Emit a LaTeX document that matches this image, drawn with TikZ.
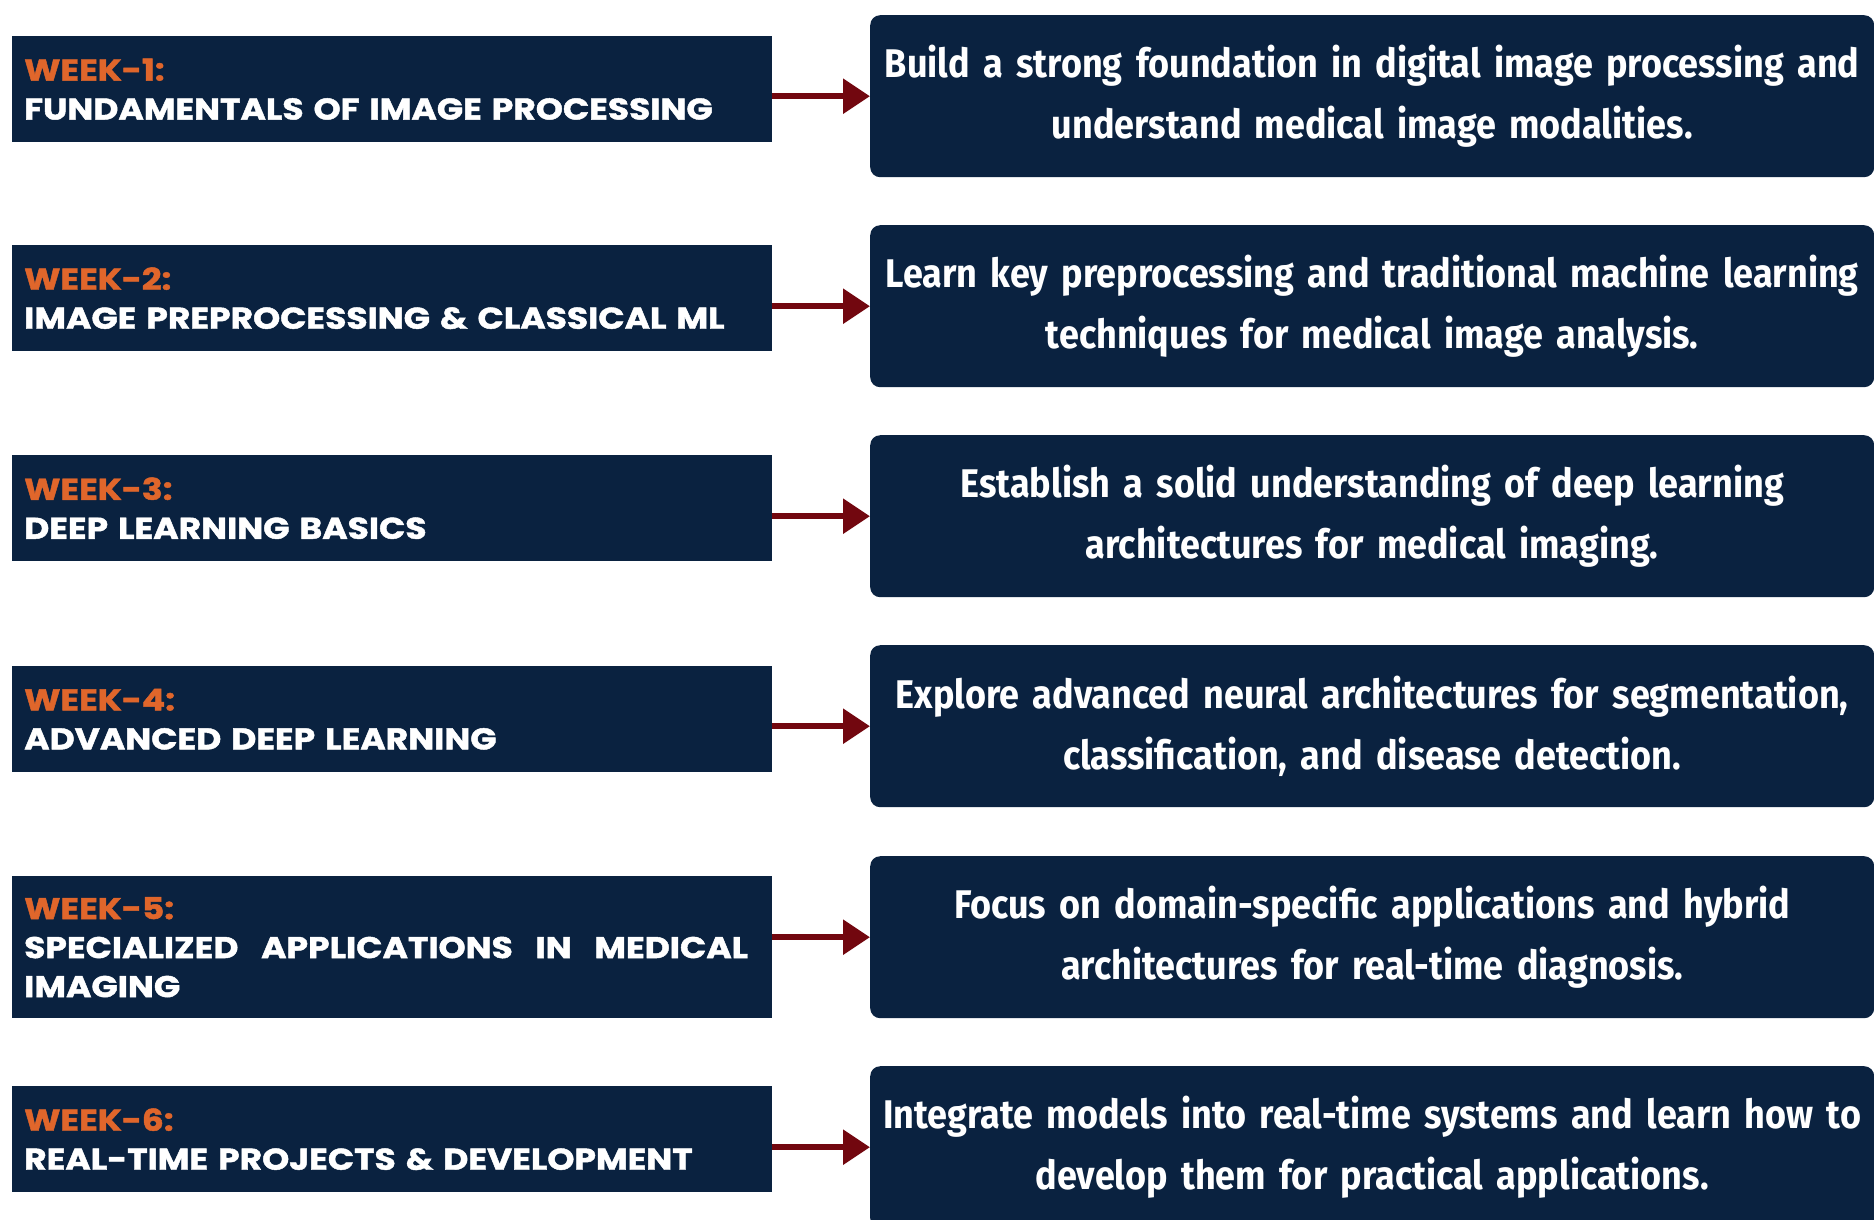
\documentclass[tikz,border=0pt]{standalone}
\usepackage{fontspec}
\setmainfont{Carlito}
\newfontfamily\weekfont{Poppins}[FakeStretch=1.15, BoldFeatures={FakeBold=1.5}]
\newfontfamily\descfont{Fira Sans}[FakeStretch=0.9, WordSpace=0.8]
\usetikzlibrary{arrows.meta}
\definecolor{navy}{HTML}{0A2240}
\definecolor{weekorange}{HTML}{E0662B}
\definecolor{arrowred}{HTML}{72070F}
\tikzset{
  weekbox/.style={rectangle, fill=navy, anchor=north west, minimum width=760pt,
    minimum height=106pt, inner xsep=12pt, inner ysep=0pt, text width=736pt, align=left,
    text=white, font={\weekfont\bfseries\fontsize{30}{39}\selectfont}},
  descbox/.style={rectangle, rounded corners=10pt, fill=navy, anchor=north west,
    minimum width=1004pt, minimum height=162pt, inner sep=0pt, text width=1000pt,
    align=center, text=white,
    font={\descfont\bfseries\fontsize{40}{51.5}\selectfont\lineskiplimit=-60pt\lineskip=0pt},
    execute at begin node={\vspace*{10pt}}},
  linkarrow/.style={draw=arrowred, line width=6pt, -{Triangle[length=27pt,width=34pt]}},
}
\newcommand{\wk}[1]{\textcolor{weekorange}{#1}}
\begin{document}
\begin{tikzpicture}[x=1pt,y=-1pt]
\clip (0,0) rectangle (1874,1219);
\fill[white] (0,0) rectangle (1874,1219);

\node[weekbox] (w1) at (12,36) {\wk{WEEK-1:}\\FUNDAMENTALS OF IMAGE PROCESSING};
\node[weekbox] (w2) at (12,245) {\wk{WEEK-2:}\\IMAGE PREPROCESSING \& CLASSICAL ML};
\node[weekbox] (w3) at (12,455) {\wk{WEEK-3:}\\DEEP LEARNING BASICS};
\node[weekbox] (w4) at (12,666) {\wk{WEEK-4:}\\ADVANCED DEEP LEARNING};
\node[weekbox, minimum height=142pt] (w5) at (12,876) {\wk{WEEK-5:}\\\makebox[724pt][l]{SPECIALIZED\hfill APPLICATIONS\hfill IN\hfill MEDICAL}\\IMAGING};
\node[weekbox] (w6) at (12,1086) {\wk{WEEK-6:}\\REAL-TIME PROJECTS \& DEVELOPMENT};

\node[descbox] (d1) at (870,15) {Build a strong foundation in digital image processing and\\understand medical image modalities.};
\node[descbox] (d2) at (870,225) {Learn key preprocessing and traditional machine learning\\techniques for medical image analysis.};
\node[descbox] (d3) at (870,435) {Establish a solid understanding of deep learning\\architectures for medical imaging.};
\node[descbox] (d4) at (870,645) {Explore advanced neural architectures for segmentation,\\classification, and disease detection.};
\node[descbox] (d5) at (870,856) {Focus on domain-specific applications and hybrid\\architectures for real-time diagnosis.};
\node[descbox] (d6) at (870,1066) {Integrate models into real-time systems and learn how to\\develop them for practical applications.};

\foreach \i in {1,...,6}{
  \draw[linkarrow] (w\i.east |- d\i.west) -- (d\i.west);
}
\end{tikzpicture}
\end{document}
